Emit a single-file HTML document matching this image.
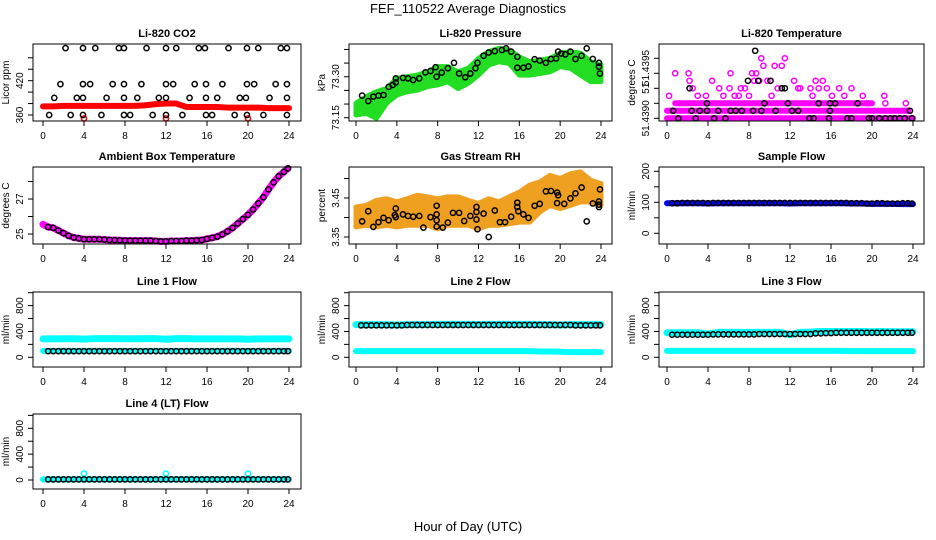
<!DOCTYPE html>
<html><head><meta charset="utf-8"><style>
body{margin:0;background:#fff}
svg{display:block;font-family:"Liberation Sans",sans-serif}
</style></head><body>
<svg id="chart" width="936" height="540" viewBox="0 0 936 540">
<text x="468" y="13" text-anchor="middle" font-size="13">FEF_110522  Average Diagnostics</text>
<text x="468" y="531" text-anchor="middle" font-size="13">Hour of Day (UTC)</text>
</svg>
<script>
const H=[0,1,2,3,4,5,6,7,8,9,10,11,12,13,14,15,16,17,18,19,20,21,22,23,24];
const halfT=[0.5,1,1.5,2,2.5,3,3.5,4,4.5,5,5.5,6,6.5,7,7.5,8,8.5,9,9.5,10,10.5,11,11.5,12,12.5,13,13.5,14,14.5,15,15.5,16,16.5,17,17.5,18,18.5,19,19.5,20,20.5,21,21.5,22,22.5,23,23.5,23.9];
const xTicks=[0,4,8,12,16,20,24];
// CO2
const coT=[2.2,3.9,5.1,7.4,7.9,10.1,12,13,15.2,15.8,18.1,19.9,21,23.2,23.8, 1.7,3.9,4.6,6.8,7.9,9.6,12,12.7,14.8,15.9,17.5,19.9,20.6,22.7,23.8, 1.1,3.3,3.9,6.2,7.9,9.2,11.3,12,14.3,15.9,17,19.2,19.8,22.1,23.8, 0.6,2.7,3.9,5.7,7.9,8.5,10.7,12,13.6,15.9,16.5,18.7,19.9,21.5,23.8];
const coV=[477,477,477,477,477,477,477,477,477,477,477,477,477,477,477, 414,414,414,414,414,414,414,414,414,414,414,414,414,414,414, 390,390,390,390,390,390,390,390,390,390,390,390,390,390,390, 360,360,360,360,360,360,360,360,360,360,360,360,360,360,360];
const coRed=[375,375,376,376,376,376,376,376,376,376,377,379,380,380,374,374,374,374,373,373,373,373,372,372,372];
const coDipT=[4,12,20];
const coDipV=[354,354,354];
// Pressure
const prLo=[73.160,73.166,73.148,73.203,73.233,73.245,73.251,73.264,73.270,73.282,73.257,73.276,73.306,73.343,73.355,73.349,73.306,73.306,73.312,73.318,73.337,73.331,73.306,73.282,73.282];
const prHi=[73.203,73.227,73.245,73.257,73.294,73.300,73.306,73.318,73.337,73.337,73.318,73.331,73.367,73.392,73.404,73.398,73.373,73.355,73.361,73.367,73.386,73.392,73.386,73.355,73.343];
const prT=[0.6,1.2,1.7,2.2,2.7,3.2,3.6,3.9,3.9,4.6,5.1,5.6,6.2,6.8,7.3,7.8,7.9,8.4,9.0,9.6,10.1,10.7,11.2,11.7,11.9,12.5,13.0,13.6,14.3,14.7,15.2,15.8,15.8,16.4,16.9,17.5,18.0,18.6,19.1,19.6,19.8,20.1,20.5,21.0,21.5,22.1,22.6,23.2,23.8,23.8,23.9];
const prV=[73.231,73.211,73.227,73.231,73.233,73.263,73.270,73.279,73.294,73.296,73.294,73.288,73.294,73.316,73.321,73.335,73.300,73.315,73.331,73.351,73.312,73.298,73.312,73.331,73.351,73.377,73.389,73.394,73.398,73.404,73.392,73.373,73.333,73.333,73.338,73.364,73.359,73.351,73.365,73.367,73.392,73.385,73.382,73.392,73.365,73.377,73.404,73.365,73.351,73.337,73.312];
// Li-820 temperature (levels)
const tpT=[0.6,1.1,2.2,2.4,2.8,3.2,3.9,3.9,4.6,5.0,5.7,6.2,6.7,7.3,7.9,8.4,8.6,8.9,9.2,9.5,10.1,10.6,11.2,11.5,11.8,12.2,12.8,13.9,14.3,14.8,15.8,15.9,15.9,16.4,17.6,18.0,18.6,19.7,20.0,20.7,21.3,21.8,22.2,22.7,23.2,23.7,23.9];
const tpV=[51.439125,51.4390,51.4395,51.439125,51.4390,51.439125,51.43925,51.439125,51.4390,51.439125,51.4390,51.439125,51.439125,51.439125,51.439625,51.439125,51.440125,51.439625,51.439125,51.43925,51.439625,51.439125,51.4395,51.4395,51.43925,51.439125,51.439125,51.4390,51.4390,51.43925,51.4390,51.439125,51.43925,51.43925,51.4390,51.4390,51.43925,51.4390,51.4390,51.4390,51.4390,51.4390,51.4390,51.4390,51.4390,51.439125,51.4390];
const tmT=[0.2,0.8,2.1,2.2,2.5,3.0,3.8,4.4,5.1,5.5,6.1,6.2,6.6,7.0,7.2,7.6,8.0,8.3,8.5,8.7,9.0,9.2,9.4,9.8,10.2,10.5,10.8,11.2,11.5,12.4,12.8,13.0,14.0,14.2,14.5,14.8,15.2,15.6,16.1,16.8,17.3,18.0,19.1,19.6,21.2,21.3,23.3,23.5];
const tmV=[51.439375,51.43975,51.43975,51.439625,51.4395,51.439375,51.439375,51.439625,51.4395,51.439375,51.4395,51.43975,51.439375,51.439375,51.4395,51.4395,51.439375,51.43975,51.439625,51.43975,51.439625,51.44,51.439875,51.439625,51.439375,51.439875,51.4395,51.439875,51.44,51.439625,51.4395,51.4395,51.4395,51.439375,51.439625,51.4395,51.439625,51.4395,51.439375,51.4395,51.439375,51.4395,51.439375,51.43925,51.439375,51.43925,51.43925,51.439125];
const tmRowV=[51.4390,51.439125,51.43925];
const tmRowS=[0,0,0.8];
const tmRowE=[24,23.5,20];
// Ambient
const ambV=[25.4,25.35,25.2,25.05,24.9,24.8,24.75,24.7,24.7,24.7,24.7,24.68,24.66,24.65,24.64,24.63,24.62,24.62,24.62,24.62,24.62,24.6,24.58,24.58,24.6,24.6,24.6,24.62,24.62,24.64,24.66,24.72,24.78,24.85,24.98,25.15,25.35,25.6,25.85,26.1,26.4,26.75,27.1,27.55,27.95,28.3,28.55,28.75];
const ambStart=25.55;
// RH
const rhLo=[3.376,3.380,3.376,3.380,3.376,3.380,3.380,3.380,3.371,3.380,3.380,3.380,3.371,3.380,3.380,3.384,3.388,3.388,3.414,3.431,3.423,3.431,3.440,3.440,3.431];
const rhHi=[3.427,3.431,3.444,3.448,3.440,3.448,3.457,3.453,3.448,3.453,3.453,3.444,3.436,3.448,3.440,3.453,3.465,3.483,3.491,3.508,3.500,3.512,3.517,3.495,3.487];
const rhT=[0.6,1.2,1.7,2.2,2.7,3.2,3.8,3.9,3.9,4.6,5.1,5.6,6.2,6.6,7.3,7.9,7.9,7.9,7.9,8.5,9.0,9.5,10.1,10.6,11.2,11.8,11.8,11.8,11.9,12.5,13.0,13.6,14.1,14.6,15.2,15.8,15.8,15.9,16.4,16.9,17.5,18.0,18.6,19.1,19.7,19.7,19.8,20.4,21.0,21.5,22.1,22.6,23.2,23.8,23.8,23.8,23.9];
const rhV=[3.390,3.416,3.376,3.388,3.399,3.393,3.406,3.423,3.401,3.408,3.404,3.402,3.404,3.374,3.401,3.393,3.408,3.430,3.377,3.374,3.387,3.412,3.412,3.391,3.404,3.414,3.427,3.395,3.370,3.410,3.350,3.418,3.388,3.388,3.402,3.427,3.438,3.416,3.408,3.399,3.430,3.435,3.467,3.468,3.464,3.437,3.457,3.435,3.449,3.462,3.477,3.390,3.436,3.441,3.427,3.433,3.472];
// Flows
const sampBand=[97,97,97,97,96,97,97,97,97,97,97,97,96,97,97,97,97,97,96,96,95,95,95,94,94];
const sampV=[97,97,98,98,98,98,98,97,98,98,98,98,98,98,98,98,98,98,98,98,98,98,98,98,98,98,98,98,98,98,98,98,98,98,98,97,97,97,96,96,97,97,96,96,96,97,97,96];
const l1Hi=[285,285,288,288,282,290,290,290,288,288,290,290,280,290,290,285,285,285,285,285,280,285,285,285,285];
const l1Lo=[100,100,100,100,100,100,100,100,100,100,100,100,100,100,100,100,100,100,100,100,100,100,100,100,100];
const l1V=[95,95,95,95,95,95,95,95,95,95,95,95,95,95,95,95,95,95,95,95,95,95,95,95,95,95,95,95,95,95,95,95,95,95,95,95,95,95,95,95,95,95,95,95,95,95,95,95];
const l2Hi=[505,505,505,505,500,505,505,505,510,510,510,510,505,510,510,510,510,510,505,505,500,505,505,505,505];
const l2Lo=[95,95,95,95,95,95,95,95,95,95,95,95,95,95,95,95,95,95,90,90,85,80,80,80,80];
const l2V=[495,495,495,495,495,495,495,495,495,500,500,500,500,500,500,500,500,500,500,500,500,500,500,500,500,500,500,500,500,500,500,500,500,500,500,500,500,500,500,500,500,500,495,495,495,495,495,495];
const l3Hi=[380,380,380,380,360,385,385,385,385,385,385,385,350,385,390,400,400,400,400,400,395,400,395,395,395];
const l3Lo=[100,100,100,100,100,100,100,100,100,100,100,100,100,100,100,100,100,100,95,95,95,95,95,95,95];
const l3V=[350,350,350,350,350,350,350,350,355,355,355,355,355,355,355,355,355,360,360,360,360,360,360,360,360,360,360,360,370,370,375,375,380,380,380,380,380,380,380,380,380,380,380,380,380,380,380,380];
const l4Band=[10,10,10,10,10,10,10,10,10,10,10,10,10,10,10,10,10,10,10,10,10,10,10,10,10];
const l4V=[10,10,10,10,10,10,10,10,10,10,10,10,10,10,10,10,10,10,10,10,10,10,10,10,10,10,10,10,10,10,10,10,10,10,10,10,10,10,10,10,10,10,10,10,10,10,10,10];
const spikeT=[4,12,20];
const l4Spike=[100,100,100];

const NS='http://www.w3.org/2000/svg';
const svg=document.getElementById('chart');
const cols=[{bl:33,br:301,x0:43,x24:289},{bl:349,br:612,x0:356,x24:601},{bl:659,br:924,x0:667,x24:913}];
const rows=[{t:44,b:121},{t:167,b:244},{t:292,b:367},{t:414,b:489}];
function mk(tag,attrs,parent){const e=document.createElementNS(NS,tag);for(const k in attrs)e.setAttribute(k,attrs[k]);(parent||svg).appendChild(e);return e;}
function panel(ci,ri,name,title,ytitle,yMap,ticks,labels){
  const c=cols[ci],r=rows[ri];
  const g=mk('g',{});
  
  
  const xs=t=>c.x0+t*(c.x24-c.x0)/24;
  const ys=v=>yMap(v,r);
  const tt=mk('text',{x:(c.bl+c.br)/2,y:r.t-7,'text-anchor':'middle','font-size':11,'font-weight':'bold'},g);tt.textContent=title;
  
  
  const plot=mk('g',{},g);
  
  
  const xa=mk('g',{},g);
  
  
  mk('line',{x1:c.x0,x2:c.x24,y1:r.b,y2:r.b,stroke:'#000'},xa);
  xTicks.forEach(t=>{mk('line',{x1:xs(t),x2:xs(t),y1:r.b,y2:r.b+5,stroke:'#000'},xa);
    const l=mk('text',{x:xs(t),y:r.b+18,'text-anchor':'middle','font-size':10},xa);l.textContent=t;});
  const ya=mk('g',{},g);
  
  
  ticks.forEach(v=>{const y=ys(v);mk('line',{x1:c.bl-5,x2:c.bl,y1:y,y2:y,stroke:'#000'},ya);});
  labels.forEach(v=>{const y=ys(v);const l=mk('text',{x:0,y:0,'text-anchor':'middle','font-size':10,transform:`translate(${c.bl-10},${y}) rotate(-90)`},ya);l.textContent=v;});
  const yt=mk('text',{x:0,y:0,'text-anchor':'middle','font-size':10,transform:`translate(${c.bl-24},${(r.t+r.b)/2}) rotate(-90)`},g);yt.textContent=ytitle;
  
  
  const P={xs,ys,plot,finish(){mk('rect',{x:c.bl,y:r.t,width:c.br-c.bl,height:r.b-r.t,fill:'none',stroke:'#000'},g);}};
  return P;
}
function band(P,T,V,color,w,nm){const pts=T.map((t,i)=>P.xs(t)+','+P.ys(V[i])).join(' ');
  const e=mk('polyline',{points:pts,fill:'none',stroke:color,'stroke-width':w,'stroke-linejoin':'round','stroke-linecap':'round'},P.plot);
  
  }
function area(P,T,lo,hi,color,nm){const a=T.map((t,i)=>P.xs(t)+','+P.ys(hi[i]));const b=T.map((t,i)=>P.xs(t)+','+P.ys(lo[i])).reverse();
  const e=mk('polygon',{points:a.concat(b).join(' '),fill:color,stroke:color,'stroke-width':5,'stroke-linejoin':'round'},P.plot);
  
  }
function pts(P,T,V,color,nm){T.forEach((t,i)=>{const e=mk('circle',{cx:P.xs(t),cy:P.ys(V[i]),r:2.6,fill:'none',stroke:color,'stroke-width':1.5},P.plot);
  
  });}

// CO2
let P=panel(0,0,'co2','Li-820 CO2','Licor ppm',(v,r)=>115-(v-360)*0.572,[360,380,400,420,440,460],[360,420]);
band(P,H,coRed,'#ff0000',6,'co2-red-series');pts(P,coDipT,coDipV,'#ff0000','co2-red-point');pts(P,coT,coV,'#000','co2-average-point');P.finish();
// Pressure
P=panel(1,0,'pressure','Li-820 Pressure','kPa',(v,r)=>117.7-(v-73.15)*273,[73.15,73.20,73.25,73.30,73.35,73.40],['73.15','73.30']);
area(P,H,prLo,prHi,'#22dd22','pressure-green-series');pts(P,prT,prV,'#000','pressure-average-point');P.finish();
// Temperature
P=panel(2,0,'li820-temp','Li-820 Temperature','degrees C',(v,r)=>118.3-(v-51.439)*60000,[51.439,51.43925,51.4395,51.43975,51.44],[]);
{const c=cols[2];[['51.4390',118.3],['51.4395',88.3],['51.4395',68]].forEach(([s,y],i)=>{const l=mk('text',{x:0,y:0,'text-anchor':'middle','font-size':10,transform:`translate(${c.bl-10},${y}) rotate(-90)`});l.textContent=i==1?'51':s;});}
tmRowV.forEach((v,i)=>band(P,[tmRowS[i],tmRowE[i]],[v,v],'#ff00ff',6,'temp-magenta-row'));
pts(P,tmT,tmV,'#ff00ff','temp-magenta-point');pts(P,tpT,tpV,'#000','temp-average-point');P.finish();
// Ambient
P=panel(0,1,'ambient','Ambient Box Temperature','degrees C',(v,r)=>234-(v-25)*17.5,[25,26,27,28],[25,27]);
band(P,[0].concat(halfT),[ambStart].concat(ambV),'#ff00ff',7,'ambient-magenta-series');pts(P,halfT,ambV,'#000','ambient-average-point');P.finish();
// RH
P=panel(1,1,'rh','Gas Stream RH','percent',(v,r)=>237-(v-3.35)*390,[3.35,3.40,3.45,3.50],['3.35','3.45']);
area(P,H,rhLo,rhHi,'#f0a020','rh-orange-series');pts(P,rhT,rhV,'#000','rh-average-point');P.finish();
// Sample flow
P=panel(2,1,'sample-flow','Sample Flow','ml/min',(v,r)=>233.3-v*0.31,[0,50,100,150,200],[0,100,200]);
band(P,H,sampBand,'#0000ff',6,'sample-blue-series');pts(P,halfT,sampV,'#000','sample-average-point');P.finish();
// Line flows
const fy3=(v,r)=>357.3-v*0.0646, fy4=(v,r)=>480-v*0.0646;
const ft=[0,200,400,600,800,1000], fl=[0,400,800];
P=panel(0,2,'line1','Line 1 Flow','ml/min',fy3,ft,fl);
band(P,H,l1Hi,'#00ffff',7,'line1-cyan-upper');band(P,H,l1Lo,'#00ffff',6,'line1-cyan-lower');pts(P,halfT,l1V,'#000','line1-average-point');P.finish();
P=panel(1,2,'line2','Line 2 Flow','ml/min',fy3,ft,fl);
band(P,H,l2Hi,'#00ffff',7,'line2-cyan-upper');band(P,H,l2Lo,'#00ffff',6,'line2-cyan-lower');pts(P,halfT,l2V,'#000','line2-average-point');P.finish();
P=panel(2,2,'line3','Line 3 Flow','ml/min',fy3,ft,fl);
band(P,H,l3Hi,'#00ffff',7,'line3-cyan-upper');band(P,H,l3Lo,'#00ffff',6,'line3-cyan-lower');pts(P,halfT,l3V,'#000','line3-average-point');P.finish();
P=panel(0,3,'line4','Line 4 (LT) Flow','ml/min',fy4,ft,fl);
band(P,H,l4Band,'#00ffff',6,'line4-cyan-series');pts(P,spikeT,l4Spike,'#00ffff','line4-cyan-spike');pts(P,halfT,l4V,'#000','line4-average-point');P.finish();
</script>
</body></html>
